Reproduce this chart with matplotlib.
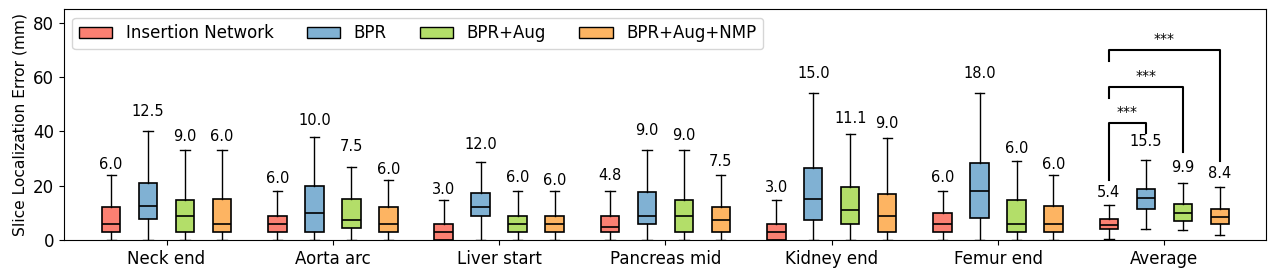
import matplotlib
matplotlib.use("Agg")
import matplotlib.pyplot as plt
import numpy as np

categories = ["Neck end", "Aorta arc", "Liver start", "Pancreas mid",
              "Kidney end", "Femur end", "Average"]
methods = ["Insertion Network", "BPR", "BPR+Aug", "BPR+Aug+NMP"]
colors = ["#fb8072", "#80b1d3", "#b3de69", "#fdb462"]

# per method: lists over categories
whislo = [
    [0, 0, 0, 0, 0, 0, 0.25],
    [0, 0, 0, 0, 0, 0, 4.2],
    [0, 0, 0, 0, 0, 0, 3.6],
    [0, 0, 0, 0, 0, 0, 1.7],
]
q1 = [
    [3, 3, 0, 3, 0, 3, 3.9],
    [7.75, 3, 9, 6, 7.5, 8.2, 11.3],
    [3, 4.5, 3, 3, 6, 3, 6.9],
    [3, 3, 3, 3, 3, 3, 5.8],
]
medians = [
    [6.0, 6.0, 3.0, 4.8, 3.0, 6.0, 5.4],
    [12.5, 10.0, 12.0, 9.0, 15.0, 18.0, 15.5],
    [9.0, 7.5, 6.0, 9.0, 11.1, 6.0, 9.9],
    [6.0, 6.0, 6.0, 7.5, 9.0, 6.0, 8.4],
]
q3 = [
    [12, 9, 6, 9, 6, 10, 7.6],
    [21, 20, 17.2, 17.6, 26.5, 28.3, 18.7],
    [14.6, 15, 9, 14.6, 19.4, 14.6, 13.2],
    [15, 12, 9, 12, 17, 12.4, 11.3],
]
whishi = [
    [24, 18, 14.7, 18, 14.7, 18, 12.8],
    [40, 38, 28.7, 33, 54, 54, 29.4],
    [33, 27, 18, 33, 39, 29, 21],
    [33, 22, 18, 24, 37.7, 24, 19.7],
]
# level of each value label (baseline, data units)
label_level = [
    [26.1, 20.9, 16.9, 22.2, 17.7, 21.5, 15.8],
    [45.8, 42.3, 33.5, 38.8, 59.7, 59.7, 34.7],
    [36.3, 32.8, 21.3, 36.9, 43.1, 32.0, 24.9],
    [36.3, 24.5, 20.1, 27.1, 41.2, 26.1, 22.8],
]
# significance brackets on the "Average" group: Insertion Network vs others
sig_target = [1, 2, 3]
sig_height = [43, 56.2, 69.9]
sig_left_end = [22, 52.3, 65.8]
sig_right_end = [39.4, 32.6, 29.0]
sig_text = ["***", "***", "***"]

group_step = 1.8
offsets = [-0.6, -0.2, 0.2, 0.6]
box_w = 0.2

fig = plt.figure(figsize=(12.75, 2.78), dpi=100)
ax = fig.add_axes([0.0502, 0.1367, 0.9427, 0.8298])

centers = np.arange(len(categories)) * group_step
for m in range(len(methods)):
    stats = []
    for c in range(len(categories)):
        stats.append(dict(med=medians[m][c], q1=q1[m][c], q3=q3[m][c],
                          whislo=whislo[m][c], whishi=whishi[m][c], fliers=[]))
    pos = centers + offsets[m]
    ax.bxp(stats, positions=pos, widths=box_w, patch_artist=True,
           showfliers=False,
           boxprops=dict(facecolor=colors[m], edgecolor="black", linewidth=1.2),
           medianprops=dict(color="black", linewidth=1.2),
           whiskerprops=dict(color="black", linewidth=1.0),
           capprops=dict(color="black", linewidth=1.0))
    for c in range(len(categories)):
        ax.text(pos[c], label_level[m][c], f"{medians[m][c]:.1f}",
                ha="center", va="baseline", fontsize=10.5)

# brackets
avg = len(categories) - 1
x0 = centers[avg] + offsets[0]
for t, h, le, re, s in zip(sig_target, sig_height, sig_left_end, sig_right_end, sig_text):
    x1 = centers[avg] + offsets[t]
    ax.plot([x0, x0, x1, x1], [le, h, h, re], color="black", linewidth=1.5)
    ax.text((x0 + x1) / 2, h + 1.5, s, ha="center", va="bottom", fontsize=10)

ax.set_xticks(centers)
ax.set_xticklabels(categories, fontsize=12)
ax.tick_params(axis="y", labelsize=12)
ax.set_xlim(-1.11, centers[-1] + 1.10)
ax.set_ylim(0, 85)
ax.set_yticks([0, 20, 40, 60, 80])
ax.set_ylabel("Slice Localization Error (mm)", fontsize=11.2)

handles = [plt.Rectangle((0, 0), 1, 1, facecolor=colors[i], edgecolor="black")
           for i in range(len(methods))]
ax.legend(handles, methods, loc="upper left", ncol=4, fontsize=12)

fig.savefig("out.png", dpi=100)
